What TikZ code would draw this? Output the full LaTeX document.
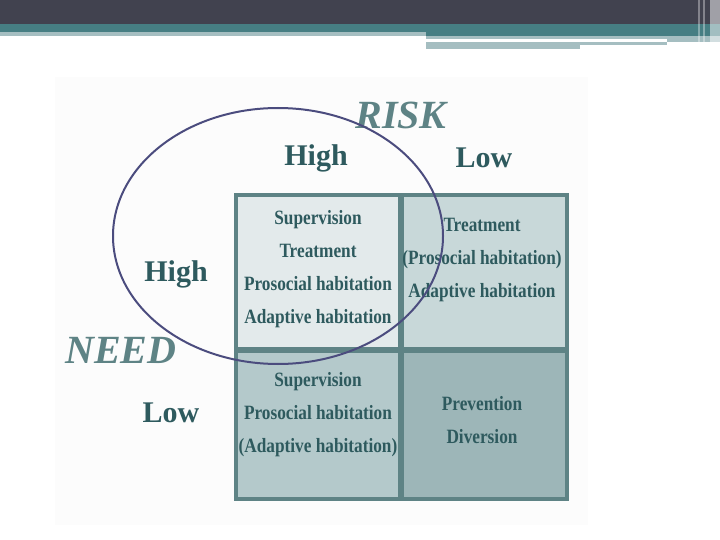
\documentclass[tikz,border=0pt]{standalone}
\usepackage{fontspec}
\setmainfont{Liberation Serif}[FakeStretch=0.85]
\newfontfamily\labelfont{Liberation Serif}
\definecolor{darkband}{HTML}{41424F}
\definecolor{tealband}{HTML}{467E83}
\definecolor{lightband}{HTML}{A5BEC1}
\definecolor{gridline}{HTML}{5E8385}
\definecolor{celltl}{HTML}{E3EAEB}
\definecolor{celltr}{HTML}{C8D8D9}
\definecolor{cellbl}{HTML}{B4C9CB}
\definecolor{cellbr}{HTML}{9DB6B8}
\definecolor{txt}{HTML}{2E5A5E}
\definecolor{ring}{HTML}{4B4C7E}
\definecolor{faint}{HTML}{FCFCFC}
\begin{document}
\begin{tikzpicture}[x=1pt,y=-1pt,
  cell/.style={draw=gridline,line width=4pt,inner sep=0pt,anchor=north west},
  celltext/.style={text=txt,font=\bfseries\fontsize{20.3}{33}\selectfont,align=center,inner sep=0pt},
  axis/.style={text=txt,font=\labelfont\bfseries\fontsize{30}{30}\selectfont,inner sep=0pt},
  title/.style={text=gridline,font=\labelfont\bfseries\itshape\fontsize{40}{40}\selectfont,inner sep=0pt}]
\useasboundingbox (0,0) rectangle (720,540);
% header bands
\fill[darkband] (0,0) rectangle (720,24);
\fill[tealband] (0,24) rectangle (720,32);
\fill[lightband] (0,32) rectangle (426,36);
\fill[tealband] (426,32) rectangle (720,36);
\fill[lightband] (426,36) rectangle (720,39);
\fill[lightband] (667,39) rectangle (720,42);
\fill[lightband] (426,42) rectangle (667,45);
\fill[lightband] (426,45) rectangle (580,49);
\fill[white,opacity=0.35] (698,0) rectangle (700,46);
\fill[white,opacity=0.35] (703,0) rectangle (705,46);
\fill[white,opacity=0.5] (710,0) rectangle (720,48);
% faint picture background
\fill[faint] (55,77) rectangle (588,525);
% grid cells
\node[cell,fill=celltl,minimum width=164pt,minimum height=154pt] (tl) at (234,193) {};
\node[cell,fill=celltr,minimum width=165pt,minimum height=154pt] (tr) at (400,193) {};
\node[cell,fill=cellbl,minimum width=164pt,minimum height=148pt] (bl) at (234,349) {};
\node[cell,fill=cellbr,minimum width=165pt,minimum height=148pt] (br) at (400,349) {};
% cell texts
\node[celltext] (ttl) at (318,269.5) {Supervision\\Treatment\\Prosocial habitation\\Adaptive habitation};
\node[celltext] (ttr) at (482,260) {Treatment\\(Prosocial habitation)\\Adaptive habitation};
\node[celltext] (tbl) at (318,415) {Supervision\\Prosocial habitation\\(Adaptive habitation)};
\node[celltext] (tbr) at (482,420.5) {Prevention\\Diversion};
% axis labels
\node[title] (risk) at (401,115) {RISK};
\node[axis] (rhigh) at (316,158) {High};
\node[axis] (rlow) at (484,158) {Low};
\node[axis] (nhigh) at (176,274) {High};
\node[title] (need) at (121,350) {NEED};
\node[axis] (nlow) at (171,413) {Low};
% ring
\draw[ring,line width=2pt] (278,236) ellipse [x radius=165,y radius=128];
\end{tikzpicture}
\end{document}
